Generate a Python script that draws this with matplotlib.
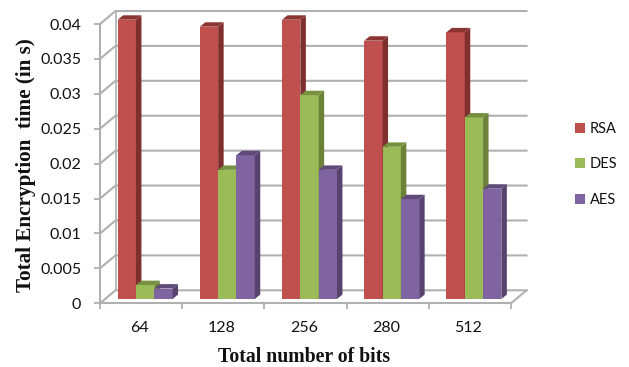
import matplotlib
matplotlib.use("Agg")
import matplotlib.pyplot as plt
from matplotlib.patches import Polygon

categories = ["64", "128", "256", "280", "512"]
rsa = [0.040, 0.039, 0.040, 0.037, 0.0382]
des = [0.002, 0.0185, 0.0292, 0.0218, 0.026]
aes = [0.0015, 0.0206, 0.0185, 0.0143, 0.0158]
y_ticks = [0, 0.005, 0.01, 0.015, 0.02, 0.025, 0.03, 0.035, 0.04]
y_tick_labels = ["0", "0.005", "0.01", "0.015", "0.02", "0.025", "0.03", "0.035", "0.04"]

series = [
    ("RSA", rsa, "#C0504D", "#7F2F2D", "#8C3431"),
    ("DES", des, "#9BBB59", "#6B8238", "#76913F"),
    ("AES", aes, "#8064A2", "#58436F", "#5F4A7A"),
]

W, H = 629, 367
L, R, B, T = 100.0, 511.0, 303.3, 24.0
GRID = "#b0b0b0"

fig = plt.figure(figsize=(W / 100, H / 100), dpi=100, facecolor="white")
ax = fig.add_axes([L / W, 1 - B / H, (R - L) / W, (B - T) / H])
ax.set_xlim(0, len(categories))
ax.set_ylim(0, 0.04)
ax.patch.set_visible(False)

# pixel-to-data scale factors for the oblique depth direction
px_x = len(categories) / (R - L)
px_y = 0.04 / (B - T)
wall_dx, wall_dy = 15.5 * px_x, 13 * px_y

# back wall: oblique connector from the axis, then the horizontal grid line
for tick in y_ticks:
    ax.plot([0, wall_dx, len(categories) + wall_dx],
            [tick, tick + wall_dy, tick + wall_dy],
            color=GRID, lw=1.5, clip_on=False, zorder=1)
ax.plot([wall_dx, wall_dx], [wall_dy, 0.04 + wall_dy], color=GRID, lw=1.2, clip_on=False, zorder=1)
ax.plot([len(categories), len(categories) + wall_dx], [0, wall_dy],
        color=GRID, lw=1.5, clip_on=False, zorder=1)

# three-dimensional columns: front face plus shaded side and top
bar_w = 18.3 * px_x
off_x, off_y = 5.0 * px_x, 4.3 * px_y
deep_x, deep_y = 5.5 * px_x, 4.4 * px_y
handles = []
for i in range(len(categories)):
    for j, (name, vals, face, side, top) in enumerate(series):
        v = vals[i]
        x0 = i + 0.5 + (j - 1.5) * bar_w + off_x - 1 * px_x
        x1 = x0 + bar_w
        y0, y1 = off_y, v + off_y
        z = 3 + i * 3 + j * 0.5
        ax.bar(x0, v, width=bar_w, bottom=y0, align="edge", color=face,
               linewidth=0, clip_on=False, zorder=z)
        ax.add_patch(Polygon([(x1, y0), (x1 + deep_x, y0 + deep_y),
                              (x1 + deep_x, y1 + deep_y), (x1, y1)],
                             closed=True, fc=side, ec="none", clip_on=False, zorder=z))
        ax.add_patch(Polygon([(x0, y1), (x0 + deep_x, y1 + deep_y),
                              (x1 + deep_x, y1 + deep_y), (x1, y1)],
                             closed=True, fc=top, ec="none", clip_on=False, zorder=z))

for name, vals, face, side, top in series:
    handles.append(plt.Rectangle((0, 0), 1, 1, fc=face, ec="none", label=name))

for s in ("top", "right"):
    ax.spines[s].set_visible(False)
for s in ("left", "bottom"):
    ax.spines[s].set_color(GRID)
    ax.spines[s].set_linewidth(1.5)
    ax.spines[s].set_zorder(2)

ax.set_yticks(y_ticks)
ax.set_yticklabels(y_tick_labels, fontfamily="Lato", fontsize=11.5, color="#111111")
ax.tick_params(axis="y", length=4, width=1.3, color=GRID, pad=9.5)

ax.set_xticks(range(len(categories) + 1))
ax.set_xticklabels([])
ax.tick_params(axis="x", which="major", length=4.5, width=1.3, color=GRID)
ax.set_xticks([i + 0.48 for i in range(len(categories))], minor=True)
ax.set_xticklabels(categories, minor=True, fontfamily="Lato", fontsize=11.5, color="#111111")
ax.tick_params(axis="x", which="minor", length=0, pad=12.5)

fig.text(304 / W, 1 - 357 / H, "Total number of bits", family="Liberation Serif",
         fontweight="bold", fontsize=14.2, ha="center", va="center", color="#111111")
fig.text(26 / W, 1 - 165 / H, "Total Encryption  time (in s)", family="Liberation Serif",
         fontweight="bold", fontsize=15.2, rotation=90, ha="center", va="center", color="#111111")

leg = fig.legend(handles=handles, loc="center left", bbox_to_anchor=(575 / W, 1 - 164.5 / H),
                 frameon=False, handlelength=0.66, handleheight=0.66, handletextpad=0.36,
                 labelspacing=1.46, borderpad=0, borderaxespad=0,
                 prop={"family": "Lato", "size": 10.5})
for t in leg.get_texts():
    t.set_color("#111111")

fig.savefig("out.png", dpi=100)
